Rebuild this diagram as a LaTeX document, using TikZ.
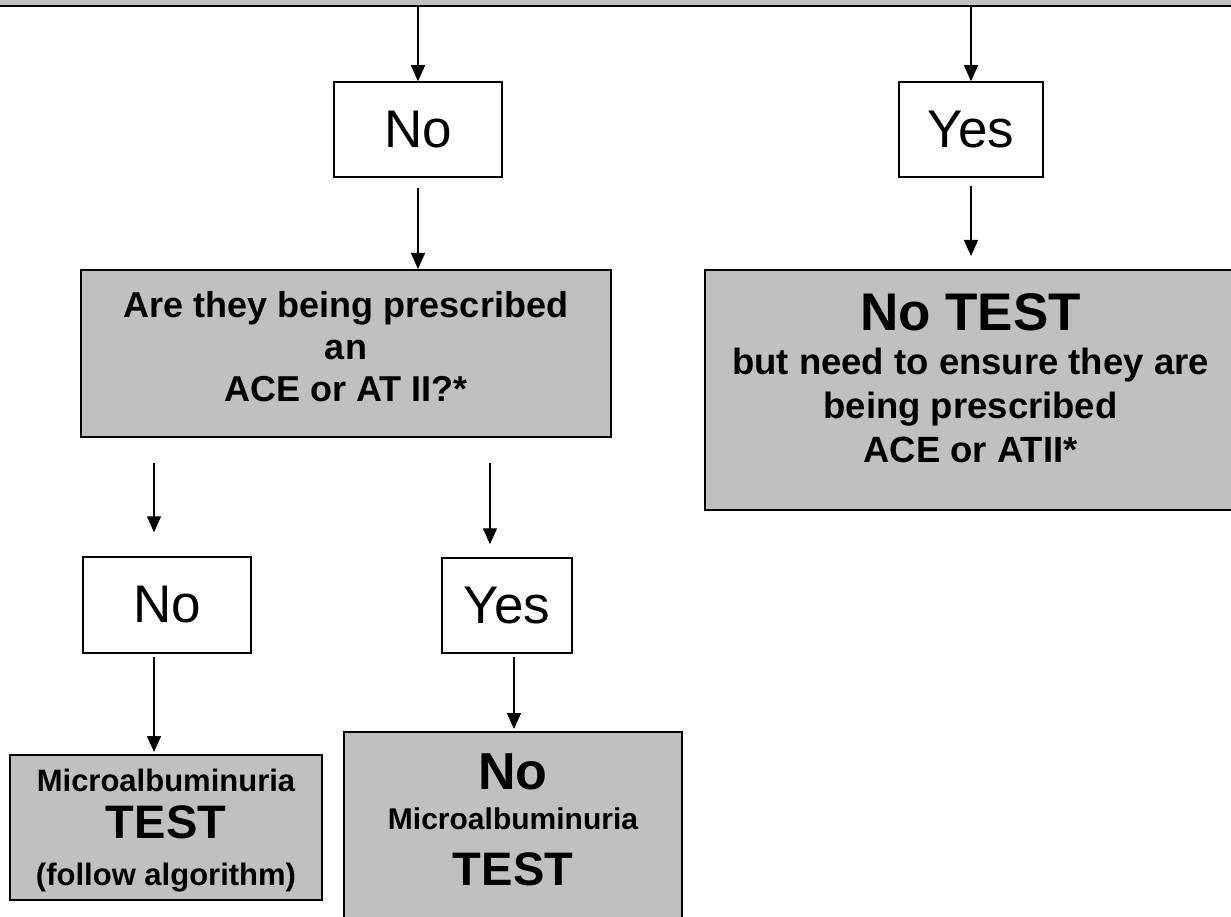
\documentclass[tikz,border=0pt]{standalone}
\usepackage{fontspec}
\setmainfont{Liberation Sans}
\usetikzlibrary{arrows.meta, calc}
\definecolor{boxgrey}{HTML}{C0C0C0}

\begin{document}
\begin{tikzpicture}[x=1pt, y=-1pt,% pixel grid, y goes down
	answer/.style={draw, line width=1.5pt, fill=white, inner sep=0pt, font=\fontsize{53}{53}\selectfont},
	action/.style={draw, line width=2pt, fill=boxgrey, inner sep=0pt, align=center},
	arr/.style={line width=1.4pt, -{Triangle[length=16pt,width=14pt]}}]

\useasboundingbox (0,0) rectangle (1231,917);

% the box above, only its bottom is left
\node [draw, fill=boxgrey, line width=2.5pt, inner sep=0pt,
	minimum width=1251pt, minimum height=46pt] (prev) at (615.5,-17) {};

%%%%%%%%%%%%%%%%%%%%%%%%%%%%%%%%%%%%%%%%%%%%%%%%%%%%%%%%%%%%%%%%%%%%%%%%
% first answers
\node [answer, minimum width=168pt, minimum height=95pt] (noA)	at (418,129.5)	{No};
\node [answer, minimum width=144pt, minimum height=95pt] (yesA)	at (971,129.5)	{Yes};

\node [action, minimum width=530pt, minimum height=167pt, text depth=14pt,
	font=\bfseries\fontsize{36}{42}\selectfont] (q) at (346,353.5)
	{Are they being prescribed\\an\\ACE or AT II?*};

\node [action, minimum width=531pt, minimum height=240pt, text depth=24pt,
	font=\bfseries\fontsize{36.5}{44}\selectfont] (r) at (970.5,390)
	{{\fontsize{53}{53}\selectfont No TEST}\\but need to ensure they are\\being prescribed\\ACE or ATII*};

%%%%%%%%%%%%%%%%%%%%%%%%%%%%%%%%%%%%%%%%%%%%%%%%%%%%%%%%%%%%%%%%%%%%%%%%
% second answers
\node [answer, minimum width=168pt, minimum height=96pt] (noB)	at (167,605)	{No};
\node [answer, minimum width=130pt, minimum height=95pt] (yesB)	at (507,605.5)	{Yes};

\node [action, minimum width=312pt, minimum height=145pt, text depth=0pt,
	font=\bfseries\fontsize{31}{47}\selectfont] (b1) at (166,827.5)
	{Microalbuminuria\\{\fontsize{47}{47}\selectfont TEST}\\(follow algorithm)};

\node [action, minimum width=338pt, minimum height=208pt, text depth=32pt,
	font=\bfseries\fontsize{30}{40}\selectfont] (b3) at (513,836)
	{{\fontsize{52}{52}\selectfont No}\\Microalbuminuria\\[16pt]{\fontsize{47}{47}\selectfont TEST}};

%%%%%%%%%%%%%%%%%%%%%%%%%%%%%%%%%%%%%%%%%%%%%%%%%%%%%%%%%%%%%%%%%%%%%%%%
% arrows
\draw [arr] (noA.north |- prev.south)		-- (noA.north);
\draw [arr] (yesA.north |- prev.south)		-- (yesA.north);
\draw [arr] ($(noA.south)+(0,10)$)		-- (noA.south |- q.north);
\draw [arr] ($(yesA.south)+(0,8)$)		-- ($(yesA.south |- r.north)+(0,-13)$);

\draw [arr] ($(q.south -| noB.north)+(-13,25)$)	-- ($(noB.north)+(-13,-24)$);
\draw [arr] ($(q.south -| yesB.north)+(-17,25)$)	-- ($(yesB.north)+(-17,-13)$);
\draw [arr] ($(noB.south)+(-13,3)$)		-- ($(b1.north)+(-12,-2)$);
\draw [arr] ($(yesB.south)+(7,3)$)		-- ($(b3.north)+(1,-2)$);

\end{tikzpicture}
\end{document}
